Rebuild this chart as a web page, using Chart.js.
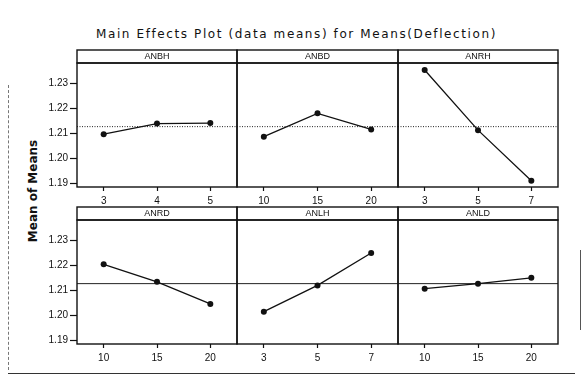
<!DOCTYPE html>
<html>
<head>
<meta charset="utf-8">
<script src="https://cdn.jsdelivr.net/npm/chart.js@4.4.1/dist/chart.umd.min.js"></script>
<style>
  body { margin: 0; background: #fff; width: 583px; height: 378px; position: relative; overflow: hidden; }
  canvas { position: absolute; }
  #title { position: absolute; left: 0; top: 27px; width: 593px; text-align: center;
           font: 12px "DejaVu Sans"; letter-spacing: 1.6px; color: #111; white-space: nowrap; }
  #ylabel { position: absolute; left: 33px; top: 191px; transform: translate(-50%, -50%) rotate(-90deg);
            font: bold 12px "DejaVu Sans"; color: #111; white-space: nowrap; }
  .scan { position: absolute; }
</style>
</head>
<body>
<div id="title">Main Effects Plot (data means) for Means(Deflection)</div>
<div id="ylabel">Mean of Means</div>
<div class="scan" style="left:8px;top:85px;width:0;height:285px;border-left:1px dashed #777"></div>
<div class="scan" style="left:8px;top:373px;width:567px;height:0;border-top:1px solid #333"></div>
<div class="scan" style="left:580px;top:250px;width:0;height:80px;border-left:1px solid #555"></div>

<script>
// niveaux et moyennes
const factors = ['ANBH', 'ANBD', 'ANRH', 'ANRD', 'ANLH', 'ANLD'];
const levelsANBH = ['3', '4', '5'];
const levelsANBD = ['10', '15', '20'];
const levelsANRH = ['3', '5', '7'];
const levelsANRD = ['10', '15', '20'];
const levelsANLH = ['3', '5', '7'];
const levelsANLD = ['10', '15', '20'];
const meansANBH = [1.2097, 1.2139, 1.2141];
const meansANBD = [1.2087, 1.2180, 1.2116];
const meansANRH = [1.2353, 1.2113, 1.1911];
const meansANRD = [1.2204, 1.2134, 1.2046];
const meansANLH = [1.2015, 1.2120, 1.2249];
const meansANLD = [1.2107, 1.2127, 1.2150];
const grandMean = 1.2127;
const yTicks = [1.19, 1.20, 1.21, 1.22, 1.23];

const levels = [levelsANBH, levelsANBD, levelsANRH, levelsANRD, levelsANLH, levelsANLD];
const means = [meansANBH, meansANBD, meansANRH, meansANRD, meansANLH, meansANLD];

// placement des panneaux
const colLeft = [77, 237, 398];
const colWidth = [160, 161, 160];
const rowTop = [50, 207];
const headerH = 13;
const plotH = 124;
const marginL = 62, marginR = 8, marginT = 4, axisH = 26;

const panelPlugin = {
  id: 'panel',
  beforeDatasetsDraw(chart) {
    const a = chart.chartArea, ctx = chart.ctx;
    const y = chart.scales.y.getPixelForValue(grandMean);
    ctx.save();
    ctx.strokeStyle = '#222';
    ctx.lineWidth = 1;
    if (chart.options.plugins.panel.row === 0) ctx.setLineDash([1, 1.5]);
    ctx.beginPath();
    ctx.moveTo(a.left, y);
    ctx.lineTo(a.right, y);
    ctx.stroke();
    ctx.restore();
  },
  afterDraw(chart) {
    const a = chart.chartArea, ctx = chart.ctx;
    ctx.save();
    ctx.strokeStyle = '#111';
    ctx.lineWidth = 1.4;
    ctx.strokeRect(a.left, a.top - headerH, a.right - a.left, headerH);
    ctx.strokeRect(a.left, a.top, a.right - a.left, a.bottom - a.top);
    ctx.fillStyle = '#111';
    ctx.font = '9px "Liberation Sans", Arial, sans-serif';
    ctx.textAlign = 'center';
    ctx.textBaseline = 'middle';
    ctx.fillText(chart.options.plugins.panel.label, (a.left + a.right) / 2, a.top - headerH / 2 + 0.5);
    ctx.restore();
  }
};

factors.forEach((name, i) => {
  const row = Math.floor(i / 3), col = i % 3;
  const cv = document.createElement('canvas');
  const w = marginL + colWidth[col] + marginR;
  const h = marginT + headerH + plotH + axisH;
  cv.width = w; cv.height = h;
  cv.style.left = (colLeft[col] - marginL) + 'px';
  cv.style.top = (rowTop[row] - marginT) + 'px';
  document.body.appendChild(cv);

  new Chart(cv, {
    type: 'line',
    data: {
      labels: levels[i],
      datasets: [{
        data: means[i],
        borderColor: '#111',
        borderWidth: 1.3,
        pointRadius: 3,
        pointBackgroundColor: '#111',
        pointBorderWidth: 0,
        tension: 0
      }]
    },
    options: {
      responsive: false,
      animation: false,
      layout: { padding: { top: marginT + headerH, left: 0, right: marginR, bottom: 0 } },
      scales: {
        x: {
          type: 'category',
          offset: true,
          grid: { display: true, drawOnChartArea: false, offset: false, tickLength: 4, color: '#111', tickWidth: 1.2 },
          border: { display: false },
          ticks: { color: '#111', padding: 4, maxRotation: 0, font: { family: '"Liberation Sans", Arial, sans-serif', size: 10 } },
          afterFit: s => { s.height = axisH; }
        },
        y: {
          min: 1.1886,
          max: 1.2381,
          afterBuildTicks: s => { s.ticks = yTicks.map(v => ({ value: v })); },
          grid: { display: col === 0, drawOnChartArea: false, tickLength: 7, color: '#111', tickWidth: 1.2 },
          border: { display: false },
          ticks: { display: col === 0, color: '#111', padding: 2, callback: v => v.toFixed(2), font: { family: '"Liberation Sans", Arial, sans-serif', size: 10 } },
          afterFit: s => { s.width = marginL; }
        }
      },
      plugins: {
        legend: { display: false },
        tooltip: { enabled: false },
        panel: { label: name, row: row }
      }
    },
    plugins: [panelPlugin]
  });
});
</script>
</body>
</html>
